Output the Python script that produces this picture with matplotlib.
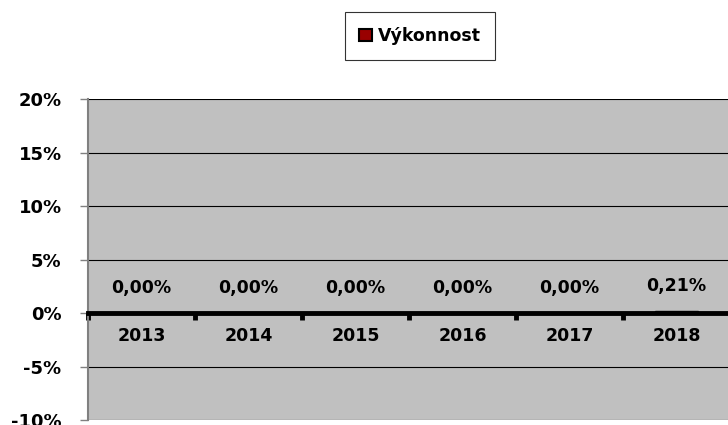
import matplotlib
matplotlib.use("Agg")
import matplotlib.pyplot as plt
from matplotlib.patches import Patch
from matplotlib.ticker import FuncFormatter

years = ["2013", "2014", "2015", "2016", "2017", "2018"]
vykonnost = [0.00, 0.00, 0.00, 0.00, 0.00, 0.21]   # percent
value_labels = ["0,00%", "0,00%", "0,00%", "0,00%", "0,00%", "0,21%"]
yticks = [-10, -5, 0, 5, 10, 15, 20]

plt.rcParams["font.family"] = ["DejaVu Sans"]
plt.rcParams["font.weight"] = "bold"

fig = plt.figure(figsize=(7.28, 4.25), dpi=100)
ax = fig.add_axes([88 / 728, 5 / 425, 642 / 728, 321 / 425])
ax.set_facecolor("#C0C0C0")

x = list(range(len(years)))
ax.bar(x, vykonnost, width=0.4, color="#8B0000", edgecolor="black", lw=1, zorder=3)

ax.set_xlim(-0.5, len(years) - 0.5)
ax.set_ylim(-10, 20)
ax.set_yticks(yticks)
ax.yaxis.set_major_formatter(FuncFormatter(lambda v, _: f"{v:.0f}%"))
ax.grid(axis="y", color="black", lw=0.8, zorder=1)
ax.tick_params(axis="y", length=6, width=1, color="#808080", labelsize=13, pad=13)
for t in ax.get_yticklabels():
    t.set_fontweight("bold")

# zero line as the category axis, with thick tick marks at the boundaries
ax.spines["bottom"].set_position(("data", 0))
ax.spines["bottom"].set_linewidth(3.5)
ax.spines["bottom"].set_zorder(4)
ax.set_xticks([i - 0.5 for i in range(len(years) + 1)])
ax.set_xticklabels([])
ax.tick_params(axis="x", direction="out", length=5, width=3.5, color="black")
for s in ("top", "right"):
    ax.spines[s].set_visible(False)
ax.spines["left"].set_color("#808080")
ax.spines["left"].set_linewidth(1.5)

for i, (v, lab) in enumerate(zip(vykonnost, value_labels)):
    ax.text(i, max(v, 0) + 1.5, lab, ha="center", va="bottom", fontsize=12.5, fontweight="bold", zorder=5)
    ax.text(i, -1.3, years[i], ha="center", va="top", fontsize=12.5, fontweight="bold", zorder=5)

leg = fig.legend(handles=[Patch(facecolor="#990000", edgecolor="black", lw=1.5, label="Výkonnost")],
                 loc="center", bbox_to_anchor=(420 / 728, 1 - 36 / 425), frameon=True, fancybox=False,
                 fontsize=12.5, handlelength=0.75, handleheight=0.75, handletextpad=0.3, borderpad=0.85,
                 borderaxespad=0)
leg.get_frame().set_edgecolor("black")
leg.get_frame().set_linewidth(0.8)
for t in leg.get_texts():
    t.set_fontweight("bold")

fig.savefig("out.png", dpi=100)
